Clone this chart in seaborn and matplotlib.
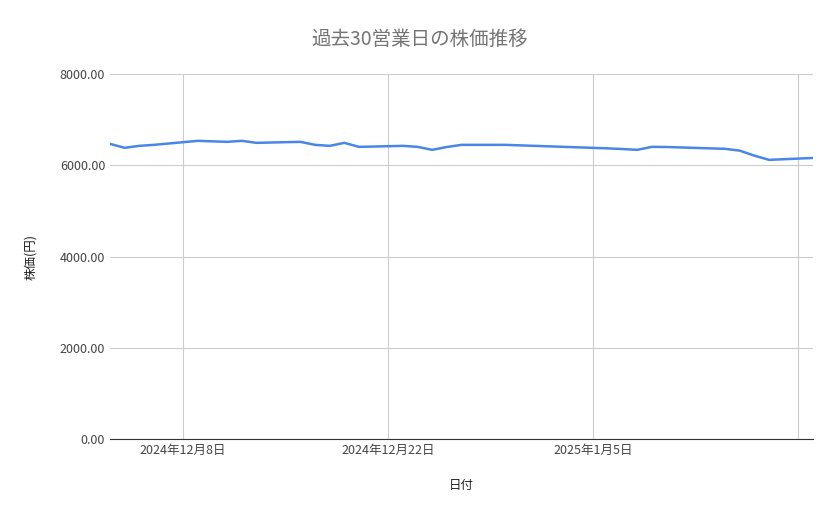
import pandas as pd
import matplotlib.pyplot as plt
import seaborn as sns

dates = ['2024-12-03', '2024-12-04', '2024-12-05', '2024-12-06', '2024-12-09',
         '2024-12-10', '2024-12-11', '2024-12-12', '2024-12-13', '2024-12-16',
         '2024-12-17', '2024-12-18', '2024-12-19', '2024-12-20', '2024-12-23',
         '2024-12-24', '2024-12-25', '2024-12-26', '2024-12-27', '2024-12-30',
         '2025-01-06', '2025-01-07', '2025-01-08', '2025-01-09', '2025-01-10',
         '2025-01-14', '2025-01-15', '2025-01-16', '2025-01-17', '2025-01-20']
prices = [6469, 6382, 6425, 6447, 6535, 6524, 6513, 6535, 6491, 6513,
          6447, 6425, 6491, 6403, 6425, 6403, 6338, 6400, 6447, 6447,
          6370, 6355, 6338, 6403, 6400, 6360, 6320, 6210, 6118, 6160]
tick_dates = ['2024-12-08', '2024-12-22', '2025-01-05', '2025-01-19']
tick_labels = ['2024年12月8日', '2024年12月22日', '2025年1月5日', '']

sns.set_style('whitegrid')
plt.rcParams['font.family'] = ['Noto Sans CJK JP', 'DejaVu Sans']

df = pd.DataFrame({'日付': pd.to_datetime(dates), '株価': prices})

fig = plt.figure(figsize=(8.39, 5.19), dpi=100)
ax = fig.add_axes([110/839, 80/519, 703/839, 365/519])
sns.lineplot(data=df, x='日付', y='株価', ax=ax, color='#4a86e8', linewidth=1.8)

ax.set_xlim(pd.Timestamp('2024-12-03'), pd.Timestamp('2025-01-20'))
ax.set_ylim(0, 8000)
ax.set_yticks([0, 2000, 4000, 6000, 8000])
ax.set_yticklabels(['{:.2f}'.format(v) for v in [0, 2000, 4000, 6000, 8000]])
ax.set_xticks(pd.to_datetime(tick_dates))
ax.set_xticklabels(tick_labels)
ax.tick_params(colors='#444444', labelsize=9, length=0)
ax.grid(color='#cccccc', linewidth=0.8)
for s in ['top', 'right', 'left']:
    ax.spines[s].set_visible(False)
ax.spines['bottom'].set_color('#333333')
ax.set_xlabel('日付', fontsize=9, color='#222222', labelpad=16)
ax.set_ylabel('株価(円)', fontsize=9, color='#222222', labelpad=16)
fig.suptitle('過去30営業日の株価推移', x=420/839, y=0.945, fontsize=14, color='#757575')

fig.savefig('out.png', dpi=100)
